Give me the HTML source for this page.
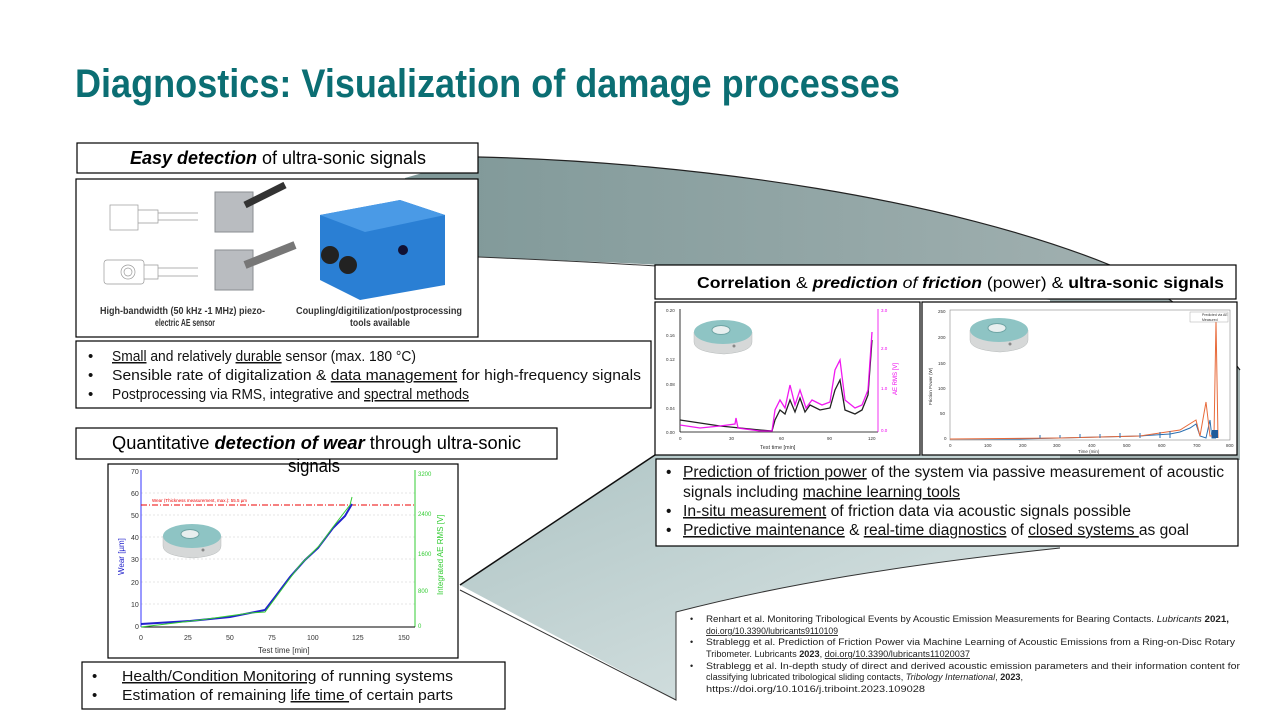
<!DOCTYPE html>
<html><head><meta charset="utf-8"><style>
html,body{margin:0;padding:0;background:#fff;width:1280px;height:720px;overflow:hidden}
svg{display:block}
text{font-family:"Liberation Sans",sans-serif}
.u{text-decoration:underline}
</style></head><body>
<svg width="1280" height="720" viewBox="0 0 1280 720" xmlns="http://www.w3.org/2000/svg">
<defs>
<linearGradient id="gt" x1="0" y1="0" x2="1" y2="0"><stop offset="0" stop-color="#7f9898"/><stop offset="1" stop-color="#a6b4b4"/></linearGradient>
<linearGradient id="gb" x1="0" y1="0" x2="1" y2="1"><stop offset="0" stop-color="#aec4c4"/><stop offset="1" stop-color="#dfe8e8"/></linearGradient>
<g id="ring">
<path d="M0,12 L0,22 Q0,32 30,34 Q58,32 58,22 L58,12 Z" fill="#d6d8d8" stroke="#b8bcbc" stroke-width="0.5"/>
<ellipse cx="29" cy="12" rx="29" ry="12" fill="#8ec4c4"/>
<ellipse cx="27" cy="10" rx="9" ry="4.5" fill="#e8efef" stroke="#6fa5a5"/>
<circle cx="40" cy="26" r="1.5" fill="#888"/>
</g>
</defs>

<path d="M405,178 L478,157 C700,162 950,200 1110,265 C1170,292 1210,330 1240,370 L1240,460 L1050,460 L1050,300 C920,282 780,268 478,257 L405,260 Z" fill="url(#gt)"/>
<path d="M478,157 C700,162 950,200 1110,265 C1170,292 1210,330 1240,370" fill="none" stroke="#222" stroke-width="1.2"/>
<path d="M478,257 C600,262 650,266 660,266" fill="none" stroke="#333" stroke-width="1"/>
<path d="M460,585 L655,455 L1060,455 L1060,548 C900,565 780,585 676,612 L676,700 Z" fill="url(#gb)"/>
<path d="M460,585 L655,455" stroke="#111" stroke-width="1.5"/>
<path d="M460,590 L676,700 L676,612 C780,585 900,565 1060,548" fill="none" stroke="#333" stroke-width="1"/>

<text x="75" y="97" font-size="40" font-weight="bold" fill="#0b6e73" textLength="825" lengthAdjust="spacingAndGlyphs">Diagnostics: Visualization of damage processes</text>

<rect x="77" y="143" width="401" height="30" fill="#fff" stroke="#000" stroke-width="1.2"/>
<text x="130" y="164" font-size="18" textLength="296" lengthAdjust="spacingAndGlyphs"><tspan font-weight="bold" font-style="italic">Easy detection</tspan> of ultra-sonic signals</text>

<rect x="76" y="179" width="402" height="158" fill="#fff" stroke="#000" stroke-width="1.2"/>
<g stroke="#999" stroke-width="0.7" fill="none">
<rect x="110" y="205" width="28" height="25"/><path d="M138,210 h20 v13 h-20 M158,213 h40 M158,220 h40"/>
<rect x="104" y="260" width="40" height="24" rx="3"/><circle cx="128" cy="272" r="7"/><circle cx="128" cy="272" r="4"/><path d="M144,265 h14 v14 h-14 M158,268 h40 M158,276 h40"/>
</g>
<g><rect x="215" y="192" width="38" height="40" fill="#b9bcc0" stroke="#8a8e92"/><path d="M245,205 L285,185" stroke="#333" stroke-width="7"/>
<rect x="215" y="250" width="38" height="40" fill="#b9bcc0" stroke="#8a8e92"/><path d="M245,265 L295,245" stroke="#777" stroke-width="8"/></g>
<path d="M320,215 L400,200 L445,215 L445,285 L360,300 L320,280 Z" fill="#2a7fd4"/>
<path d="M320,215 L400,200 L445,215 L365,232 Z" fill="#4a9ae6"/>
<circle cx="330" cy="255" r="9" fill="#222"/><circle cx="348" cy="265" r="9" fill="#222"/><circle cx="403" cy="250" r="5" fill="#113"/>
<text x="100" y="314" font-size="10" font-weight="bold" fill="#333" textLength="165" lengthAdjust="spacingAndGlyphs">High-bandwidth (50 kHz -1 MHz) piezo-</text>
<text x="155" y="326" font-size="10" font-weight="bold" fill="#333" textLength="60" lengthAdjust="spacingAndGlyphs">electric AE sensor</text>
<text x="296" y="314" font-size="10" font-weight="bold" fill="#333" textLength="166" lengthAdjust="spacingAndGlyphs">Coupling/digitilization/postprocessing</text>
<text x="350" y="326" font-size="10" font-weight="bold" fill="#333" textLength="60" lengthAdjust="spacingAndGlyphs">tools available</text>

<rect x="76" y="341" width="575" height="67" fill="#fff" stroke="#000" stroke-width="1.2"/>
<g font-size="15" fill="#111">
<text x="88" y="361">•</text><text x="88" y="380">•</text><text x="88" y="399">•</text>
<text x="112" y="361" textLength="304" lengthAdjust="spacingAndGlyphs"><tspan class="u">Small</tspan> and relatively <tspan class="u">durable</tspan> sensor (max. 180 °C)</text>
<text x="112" y="380" textLength="529" lengthAdjust="spacingAndGlyphs">Sensible rate of digitalization &amp; <tspan class="u">data management</tspan> for high-frequency signals</text>
<text x="112" y="399" textLength="357" lengthAdjust="spacingAndGlyphs">Postprocessing via RMS, integrative and <tspan class="u">spectral methods</tspan></text>
</g>

<rect x="76" y="428" width="481" height="31" fill="#fff" stroke="#000" stroke-width="1.2"/>
<text x="112" y="449" font-size="18" textLength="409" lengthAdjust="spacingAndGlyphs">Quantitative <tspan font-weight="bold" font-style="italic">detection of wear</tspan> through ultra-sonic</text>

<rect x="108" y="464" width="350" height="194" fill="#fff" stroke="#000" stroke-width="1.2"/>
<text x="288" y="472" font-size="18" textLength="52" lengthAdjust="spacingAndGlyphs">signals</text>
<g stroke="#ccc" stroke-dasharray="2,2" stroke-width="0.6">
<line x1="141" y1="493" x2="415" y2="493"/><line x1="141" y1="515" x2="415" y2="515"/><line x1="141" y1="537" x2="415" y2="537"/><line x1="141" y1="559" x2="415" y2="559"/><line x1="141" y1="582" x2="415" y2="582"/><line x1="141" y1="604" x2="415" y2="604"/>
</g>
<line x1="141" y1="470" x2="141" y2="627" stroke="#33f" stroke-width="1"/>
<line x1="415" y1="470" x2="415" y2="627" stroke="#3c3" stroke-width="1"/>
<line x1="141" y1="627" x2="415" y2="627" stroke="#000" stroke-width="1"/>
<line x1="141" y1="505" x2="415" y2="505" stroke="#e00" stroke-width="1" stroke-dasharray="6,2,1,2"/>
<text x="152" y="502" font-size="4.5" fill="#e00">Wear (Thickness measurement, max.): 55.5 µm</text>
<polyline points="141,624 190,621 230,617 255,612 265,610 275,597 290,577 305,560 318,548 333,528 345,516 352,504" fill="none" stroke="#22c" stroke-width="2"/>
<polyline points="141,627 200,620 250,613 265,612 285,585 300,565 320,545 333,527 350,505 352,497" fill="none" stroke="#3c3" stroke-width="1"/>
<g font-size="7" fill="#333" font-family="Liberation Serif">
<text x="131" y="474">70</text><text x="131" y="496">60</text><text x="131" y="518">50</text><text x="131" y="540">40</text><text x="131" y="562">30</text><text x="131" y="585">20</text><text x="131" y="607">10</text><text x="135" y="629">0</text>
<text x="139" y="640">0</text><text x="184" y="640">25</text><text x="226" y="640">50</text><text x="268" y="640">75</text><text x="307" y="640">100</text><text x="352" y="640">125</text><text x="398" y="640">150</text>
<text x="258" y="653" font-size="8">Test time [min]</text>
</g>
<g font-size="6" fill="#3c3" font-family="Liberation Serif"><text x="418" y="476">3200</text><text x="418" y="516">2400</text><text x="418" y="556">1600</text><text x="418" y="593">800</text><text x="418" y="628">0</text></g>
<text transform="translate(124,575) rotate(-90)" font-size="8" fill="#22c" font-family="Liberation Serif">Wear [µm]</text>
<text transform="translate(443,595) rotate(-90)" font-size="8" fill="#3c3" font-family="Liberation Serif">Integrated AE RMS [V]</text>
<use href="#ring" x="163" y="524"/>

<rect x="82" y="662" width="423" height="47" fill="#fff" stroke="#000" stroke-width="1.2"/>
<g font-size="15" fill="#111">
<text x="92" y="681">•</text><text x="92" y="700">•</text>
<text x="122" y="681" textLength="331" lengthAdjust="spacingAndGlyphs"><tspan class="u">Health/Condition Monitoring</tspan> of running systems</text>
<text x="122" y="700" textLength="331" lengthAdjust="spacingAndGlyphs">Estimation of remaining <tspan class="u">life time </tspan>of certain parts</text>
</g>

<rect x="655" y="265" width="581" height="34" fill="#fff" stroke="#000" stroke-width="1.2"/>
<text x="697" y="288" font-size="16" textLength="527" lengthAdjust="spacingAndGlyphs"><tspan font-weight="bold">Correlation</tspan> &amp; <tspan font-weight="bold" font-style="italic">prediction</tspan><tspan font-style="italic"> of </tspan><tspan font-weight="bold" font-style="italic">friction</tspan> (power) &amp; <tspan font-weight="bold">ultra-sonic signals</tspan></text>

<rect x="655" y="302" width="265" height="153" fill="#fff" stroke="#000" stroke-width="1.2"/>
<line x1="680" y1="309" x2="680" y2="432" stroke="#000" stroke-width="0.8"/>
<line x1="680" y1="432" x2="878" y2="432" stroke="#000" stroke-width="0.8"/>
<line x1="878" y1="309" x2="878" y2="432" stroke="#e0e" stroke-width="0.8"/>
<polyline points="680,420 700,423 720,426 740,428 760,430 772,431 775,420 780,410 785,414 790,400 795,412 800,398 805,412 810,405 820,410 830,408 835,390 840,380 845,410 855,414 862,410 868,395 872,340" fill="none" stroke="#222" stroke-width="1.3"/>
<polyline points="680,425 700,428 720,426 735,424 736,418 738,428 760,431 772,431 775,410 780,400 785,408 790,385 795,405 800,390 806,408 812,400 822,405 830,402 835,370 840,360 845,400 855,408 862,405 868,390 872,332" fill="none" stroke="#e0e" stroke-width="1.3" opacity="0.9"/>
<g font-size="4.5" fill="#333" font-family="Liberation Serif"><text x="666" y="312">0.20</text><text x="666" y="337">0.16</text><text x="666" y="361">0.12</text><text x="666" y="386">0.08</text><text x="666" y="410">0.04</text><text x="666" y="434">0.00</text>
<text x="679" y="440">0</text><text x="729" y="440">30</text><text x="779" y="440">60</text><text x="827" y="440">90</text><text x="868" y="440">120</text><text x="760" y="449" font-size="5.5">Test time [min]</text></g>
<g font-size="4.5" fill="#e0e"><text x="881" y="312">3.0</text><text x="881" y="350">2.0</text><text x="881" y="390">1.0</text><text x="881" y="432">0.0</text></g>
<text transform="translate(897,395) rotate(-90)" font-size="6" fill="#e0e">AE RMS [V]</text>
<use href="#ring" x="694" y="320"/>

<rect x="922" y="302" width="315" height="153" fill="#fff" stroke="#000" stroke-width="1.2"/>
<rect x="950" y="310" width="280" height="130" fill="none" stroke="#888" stroke-width="0.6"/>
<g fill="none" stroke-width="1">
<polyline points="950,439 1020,439 1060,438 1100,437 1140,436 1170,434 1180,432 1190,428 1196,424 1200,436 1206,438 1210,420 1212,438 1216,438" stroke="#2a6fb0"/>
<polyline points="950,439 1060,438 1140,436 1180,430 1196,420 1200,436 1206,402 1210,436 1214,436 1216,320 1218,438" stroke="#e86a3a"/>
</g>
<g stroke="#2a6fb0" stroke-width="1">
<line x1="1040" y1="438" x2="1040" y2="435"/><line x1="1060" y1="438" x2="1060" y2="435"/><line x1="1080" y1="438" x2="1080" y2="434"/><line x1="1100" y1="438" x2="1100" y2="434"/><line x1="1120" y1="438" x2="1120" y2="433"/><line x1="1140" y1="438" x2="1140" y2="433"/><line x1="1160" y1="438" x2="1160" y2="432"/><line x1="1170" y1="438" x2="1170" y2="431"/>
</g>
<rect x="1212" y="430" width="6" height="8" fill="#1f5a9a"/>
<rect x="1190" y="312" width="38" height="10" fill="#fff" stroke="#999" stroke-width="0.4"/>
<g font-size="3.5" fill="#333"><text x="1202" y="316">Predicted via AE</text><text x="1202" y="321">Measured</text></g>
<g font-size="4.5" fill="#333" font-family="Liberation Serif"><text x="938" y="313">250</text><text x="938" y="339">200</text><text x="938" y="365">150</text><text x="938" y="390">100</text><text x="940" y="415">50</text><text x="944" y="440">0</text>
<text x="949" y="447">0</text><text x="984" y="447">100</text><text x="1019" y="447">200</text><text x="1053" y="447">300</text><text x="1088" y="447">400</text><text x="1123" y="447">500</text><text x="1158" y="447">600</text><text x="1193" y="447">700</text><text x="1226" y="447">800</text><text x="1078" y="453">Time (min)</text></g>
<text transform="translate(932,405) rotate(-90)" font-size="4.5" fill="#333">Friction Power (W)</text>
<use href="#ring" x="970" y="318"/>

<rect x="656" y="459" width="582" height="87" fill="#fff" stroke="#000" stroke-width="1.2"/>
<g font-size="15.5" fill="#111">
<text x="666" y="477">•</text><text x="666" y="516">•</text><text x="666" y="535">•</text>
<text x="683" y="477" textLength="541" lengthAdjust="spacingAndGlyphs"><tspan class="u">Prediction of friction power</tspan> of the system via passive measurement of acoustic</text>
<text x="683" y="497" textLength="277" lengthAdjust="spacingAndGlyphs">signals including <tspan class="u">machine learning tools</tspan></text>
<text x="683" y="516" textLength="448" lengthAdjust="spacingAndGlyphs"><tspan class="u">In-situ measurement</tspan> of friction data via acoustic signals possible</text>
<text x="683" y="535" textLength="506" lengthAdjust="spacingAndGlyphs"><tspan class="u">Predictive maintenance</tspan> &amp; <tspan class="u">real-time diagnostics</tspan> of <tspan class="u">closed systems </tspan>as goal</text>
</g>

<g font-size="9" fill="#222">
<text x="690" y="622">•</text><text x="690" y="645">•</text><text x="690" y="669">•</text>
<text x="706" y="622" textLength="523" lengthAdjust="spacingAndGlyphs">Renhart et al. Monitoring Tribological Events by Acoustic Emission Measurements for Bearing Contacts. <tspan font-style="italic">Lubricants</tspan> <tspan font-weight="bold">2021,</tspan></text>
<text x="706" y="634" textLength="132" lengthAdjust="spacingAndGlyphs" class="u">doi.org/10.3390/lubricants9110109</text>
<text x="706" y="645" textLength="529" lengthAdjust="spacingAndGlyphs">Strablegg et al. Prediction of Friction Power via Machine Learning of Acoustic Emissions from a Ring-on-Disc Rotary</text>
<text x="706" y="657" textLength="264" lengthAdjust="spacingAndGlyphs">Tribometer. Lubricants <tspan font-weight="bold">2023</tspan>, <tspan class="u">doi.org/10.3390/lubricants11020037</tspan></text>
<text x="706" y="669" textLength="534" lengthAdjust="spacingAndGlyphs">Strablegg et al. In-depth study of direct and derived acoustic emission parameters and their information content for</text>
<text x="706" y="680" textLength="317" lengthAdjust="spacingAndGlyphs">classifying lubricated tribological sliding contacts, <tspan font-style="italic">Tribology International</tspan>, <tspan font-weight="bold">2023</tspan>,</text>
<text x="706" y="692" textLength="219" lengthAdjust="spacingAndGlyphs">https://doi.org/10.1016/j.triboint.2023.109028</text>
</g>
</svg>
</body></html>
